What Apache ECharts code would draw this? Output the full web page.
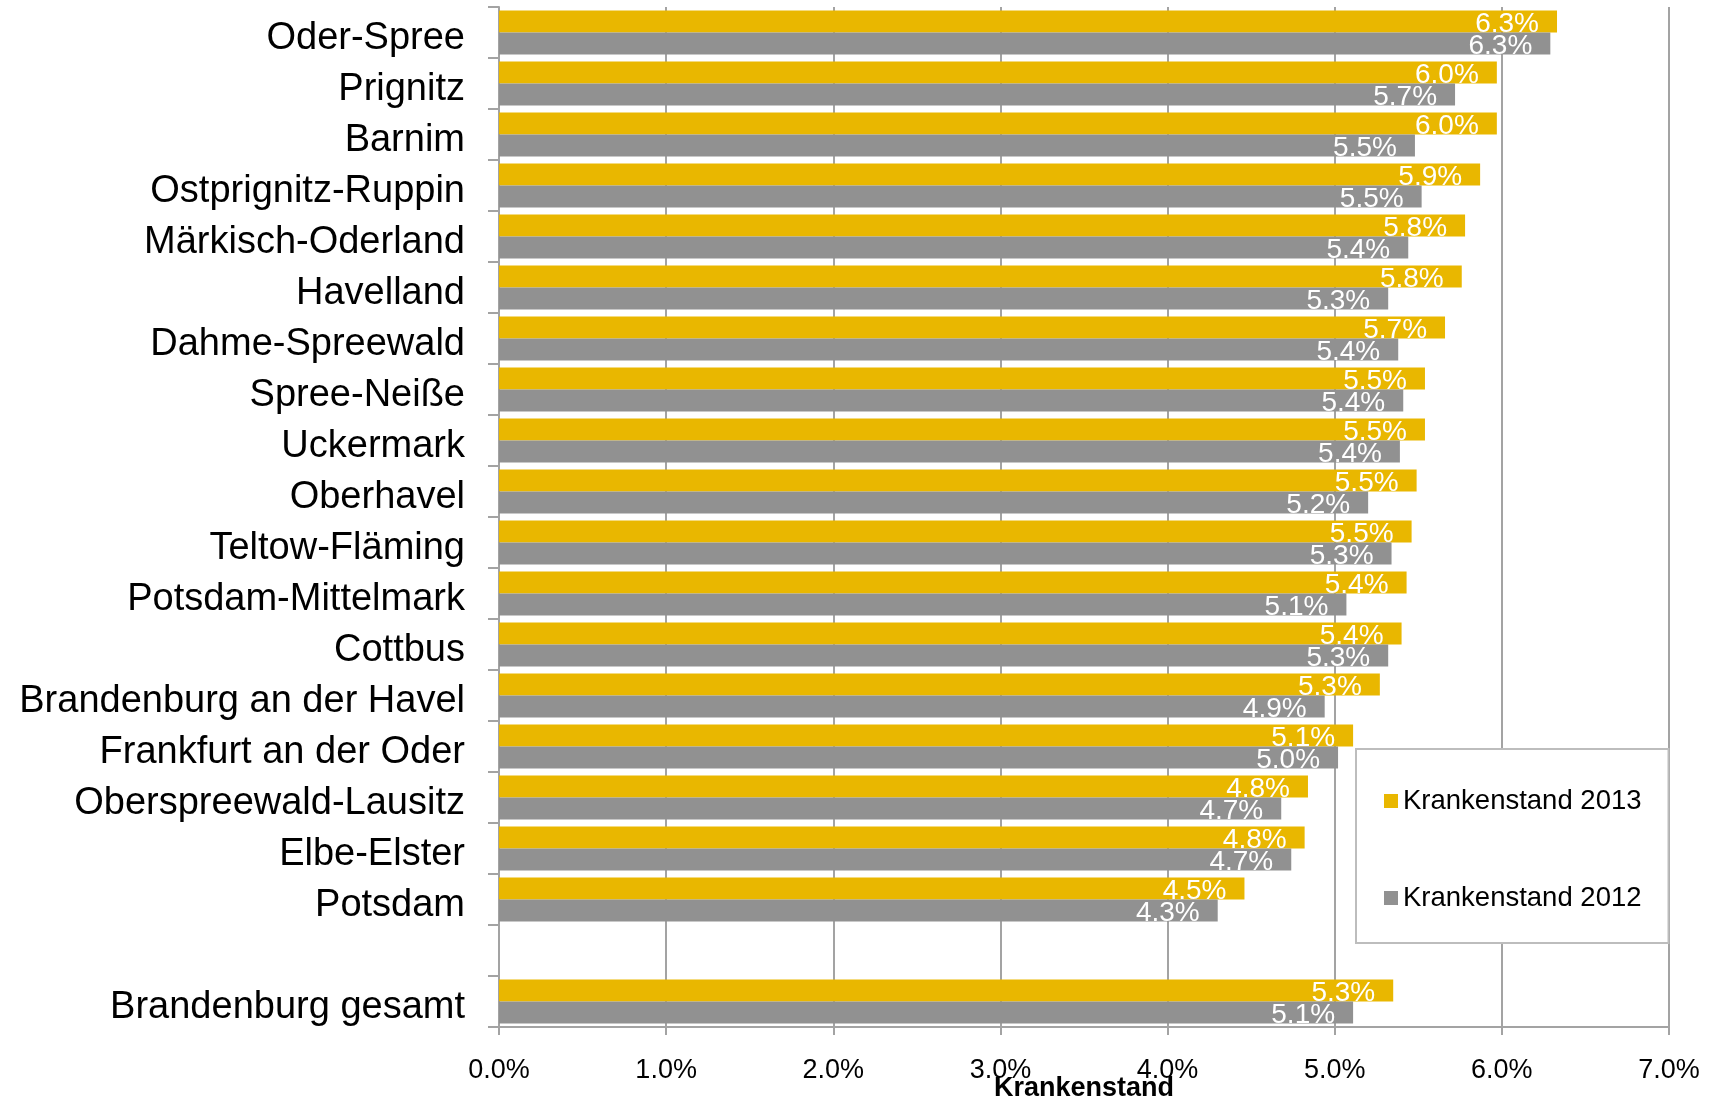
<!DOCTYPE html>
<html>
<head>
<meta charset="utf-8">
<title>Krankenstand</title>
<script src="https://cdn.jsdelivr.net/npm/echarts@6/dist/echarts.min.js"></script>
<style>
    html, body { margin: 0; padding: 0; background: #fff; }
    #chart { width: 1713px; height: 1105px; }
</style>
</head>
<body>
<div id="chart"></div>
<script>
// Kreise, von oben nach unten ('' = Leerzeile vor dem Landeswert)
var regions = ['Oder-Spree', 'Prignitz', 'Barnim', 'Ostprignitz-Ruppin', 'Märkisch-Oderland',
    'Havelland', 'Dahme-Spreewald', 'Spree-Neiße', 'Uckermark', 'Oberhavel',
    'Teltow-Fläming', 'Potsdam-Mittelmark', 'Cottbus', 'Brandenburg an der Havel',
    'Frankfurt an der Oder', 'Oberspreewald-Lausitz', 'Elbe-Elster', 'Potsdam',
    '', 'Brandenburg gesamt'];
var rate2013 = [6.33, 5.97, 5.97, 5.87, 5.78, 5.76, 5.66, 5.54, 5.54, 5.49,
    5.46, 5.43, 5.40, 5.27, 5.11, 4.84, 4.82, 4.46, null, 5.35];
var rate2012 = [6.29, 5.72, 5.48, 5.52, 5.44, 5.32, 5.38, 5.41, 5.39, 5.20,
    5.34, 5.07, 5.32, 4.94, 5.02, 4.68, 4.74, 4.30, null, 5.11];
var xTicks = [0, 1, 2, 3, 4, 5, 6, 7];

var yellow = '#e9b700';
var grey = '#919191';
var lineGrey = '#a3a3a3';
var font = 'Liberation Sans, Arial, sans-serif';

var myChart = echarts.init(document.getElementById('chart'));

function pct(v) {
    return v.toFixed(1) + '%';
}

function barLabel() {
    return {
        show: true,
        position: 'insideRight',
        distance: 18,
        offset: [0, 3],
        color: '#fff',
        fontFamily: font,
        fontSize: 28,
        formatter: function (p) { return pct(p.value); }
    };
}

var opt = {
    animation: false,
    grid: { left: 499, right: 44, top: 7, bottom: 78, outerBoundsMode: 'none' },
    legend: {
        orient: 'vertical',
        left: 1356,
        top: 749,
        padding: [38, 27, 31, 28],
        itemGap: 69,
        itemWidth: 14,
        itemHeight: 14,
        icon: 'rect',
        backgroundColor: '#fff',
        borderColor: '#bdbdbd',
        borderWidth: 2,
        borderRadius: 0,
        textStyle: {
            color: '#000',
            fontFamily: font,
            fontSize: 27.5
        },
        data: ['Krankenstand 2013', 'Krankenstand 2012']
    },
    xAxis: {
        type: 'value',
        min: xTicks[0],
        max: xTicks[xTicks.length - 1],
        interval: 1,
        name: 'Krankenstand',
        nameLocation: 'middle',
        nameGap: 48,
        nameMoveOverlap: false,
        nameTextStyle: {
            color: '#000',
            fontWeight: 'bold',
            fontFamily: font,
            fontSize: 27,
            verticalAlign: 'top'
        },
        axisLine: { show: true, lineStyle: { color: lineGrey, width: 2 } },
        axisTick: { show: true, length: 8, lineStyle: { color: lineGrey, width: 2 } },
        splitLine: { show: true, lineStyle: { color: lineGrey, width: 2 } },
        axisLabel: {
            color: '#000',
            margin: 30,
            fontFamily: font,
            fontSize: 27,
            formatter: function (v) { return pct(v); }
        }
    },
    yAxis: {
        type: 'category',
        inverse: true,
        data: regions,
        axisLine: { show: true, lineStyle: { color: lineGrey, width: 2 } },
        axisTick: { show: true, length: 11, lineStyle: { color: lineGrey, width: 2 } },
        axisLabel: {
            color: '#000',
            margin: 34,
            formatter: function (v) { return '{n|' + v + '}'; },
            rich: {
                n: {
                    color: '#000',
                    fontFamily: font,
                    fontSize: 38,
                    padding: [13, 0, 0, 0]
                }
            }
        }
    },
    series: [{
        name: 'Krankenstand 2013',
        type: 'bar',
        data: rate2013,
        barGap: '0%',
        barCategoryGap: '14%',
        itemStyle: { color: yellow },
        label: barLabel()
    }, {
        name: 'Krankenstand 2012',
        type: 'bar',
        data: rate2012,
        barGap: '0%',
        barCategoryGap: '14%',
        itemStyle: { color: grey },
        label: barLabel()
    }]
};

myChart.setOption(opt);
</script>
</body>
</html>
